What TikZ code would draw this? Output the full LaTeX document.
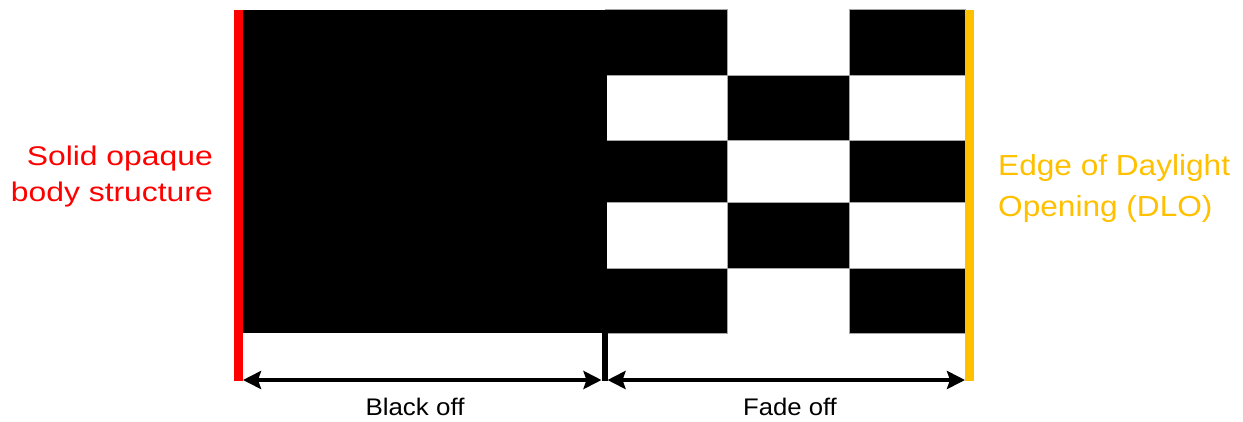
\documentclass[tikz,border=0pt]{standalone}
\usepackage{fontspec}
\setmainfont{Liberation Sans}
\usetikzlibrary{arrows.meta}
\definecolor{edgered}{RGB}{255,0,0}
\definecolor{dloyellow}{RGB}{255,192,0}
\tikzset{
  blk/.style={fill=black, draw=gray!70, line width=0.6pt},
  dimarrow/.style={line width=4.5pt, black, {Stealth[length=18pt,width=18pt,inset=3pt]}-{Stealth[length=18pt,width=18pt,inset=3pt]}},
  redlab/.style={text=edgered, align=right, anchor=base east, inner sep=0pt, font=\fontsize{27}{36}\selectfont},
  yellab/.style={text=dloyellow, align=left, anchor=base west, inner sep=0pt, font=\fontsize{29}{41}\selectfont},
  dimlab/.style={text=black, anchor=base, inner sep=0pt, font=\fontsize{24}{28}\selectfont}
}
\begin{document}
\begin{tikzpicture}[x=1pt, y=-1pt]
\useasboundingbox (0,0) rectangle (1243,421);
% black area
\draw[blk] (605.3,9.5) rectangle (727.3,75);
\draw[blk] (605.3,140.3) rectangle (727.3,202.7);
\draw[blk] (605.3,268) rectangle (727.3,333.3);
\draw[blk] (727.3,75) rectangle (849.7,140.3);
\draw[blk] (727.3,202.7) rectangle (849.7,268);
\draw[blk] (849.7,9.5) rectangle (965,75);
\draw[blk] (849.7,140.3) rectangle (965,202.7);
\draw[blk] (849.7,268) rectangle (965,333.3);
\fill[black] (243,9.5) rectangle (607,333.3);
% edge lines
\fill[edgered] (233.5,9.5) rectangle (242.8,381);
\fill[dloyellow] (965,9.5) rectangle (974,381);
% middle tick
\coordinate (ticktop) at (604.5,333);
\coordinate (tickbot) at (604.5,381);
\draw[line width=6pt] (ticktop) -- (tickbot);
% arrow endpoints
\coordinate (aL) at (243,380);
\coordinate (aM1) at (601.5,380);
\coordinate (aM2) at (607.5,380);
\coordinate (aR) at (965,380);
\draw[dimarrow] (aL) -- (aM1);
\draw[dimarrow] (aM2) -- (aR);
% labels
\node[redlab] (solid) at (213,201) {\scalebox{1.18}[1]{Solid opaque}\\\scalebox{1.18}[1]{body structure}};
\node[yellab] (dlo) at (998,216.5) {\scalebox{1.09}[1]{Edge of Daylight}\\\scalebox{1.09}[1]{Opening (DLO)}};
\node[dimlab] (blackoff) at (415,415.5) {\scalebox{1.08}[1]{Black off}};
\node[dimlab] (fadeoff) at (790,415.5) {\scalebox{1.07}[1]{Fade off}};
\end{tikzpicture}
\end{document}
